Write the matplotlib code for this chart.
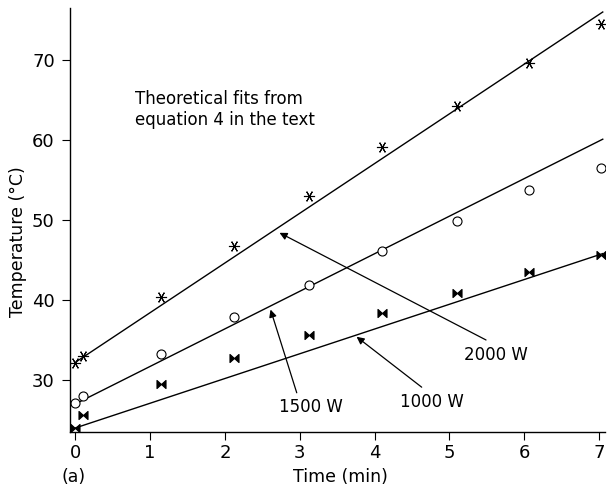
import matplotlib
matplotlib.use("Agg")
from matplotlib import pyplot as plt
from matplotlib.path import Path

# measured points (time in min, temperature in deg C)
time_pts = [0.0, 0.1, 1.15, 2.12, 3.13, 4.1, 5.1, 6.07, 7.03]
temp_2000 = [32.1, 33.0, 40.4, 46.8, 53.0, 59.1, 64.3, 69.6, 74.5]
temp_1500 = [27.1, 28.0, 33.3, 37.9, 41.9, 46.1, 49.9, 53.7, 56.5]
temp_1000 = [24.0, 25.6, 29.5, 32.7, 35.6, 38.4, 40.9, 43.5, 45.6]

# theoretical fit lines (end points)
fit_time = [0.0, 7.05]
fit_2000 = [32.2, 76.0]
fit_1500 = [27.0, 60.1]
fit_1000 = [24.0, 45.8]

# bow-tie marker with small end bars
bowtie = Path([(-1, -0.9), (-1, 0.9), (0, 0), (1, 0.9), (1, -0.9), (0, 0), (-1, -0.9)],
              [Path.MOVETO, Path.LINETO, Path.LINETO, Path.LINETO, Path.LINETO, Path.LINETO, Path.CLOSEPOLY])

plt.rcParams['font.family'] = ['DejaVu Sans']

fig = plt.figure(figsize=(6.1, 4.91), dpi=100)
ax = fig.add_axes([0.1148, 0.1202, 0.877, 0.8635])

ax.plot(fit_time, fit_2000, color="k", lw=1.0)
ax.plot(fit_time, fit_1500, color="k", lw=1.0)
ax.plot(fit_time, fit_1000, color="k", lw=1.0)

ax.plot(time_pts, temp_2000, ls="none", marker=(6, 2, 90), ms=8, mec="k", mew=0.8)
ax.plot(time_pts, temp_1500, ls="none", marker="o", ms=6.5, mfc="white", mec="k", mew=0.8)
ax.plot(time_pts, temp_1000, ls="none", marker=bowtie, ms=6.5, mfc="k", mec="k", mew=0.8)

ax.set_xlim(-0.07, 7.08)
ax.set_ylim(23.5, 76.5)
ax.set_xticks(range(0, 8))
ax.set_yticks([30, 40, 50, 60, 70])
ax.spines['top'].set_visible(False)
ax.spines['right'].set_visible(False)
ax.spines['left'].set_linewidth(1.0)
ax.spines['bottom'].set_linewidth(1.0)
ax.tick_params(direction="out", length=6, width=0.8, labelsize=13)
ax.tick_params(axis="y", pad=5)
ax.tick_params(axis="x", pad=3)

ax.set_xlabel("Time (min)", fontsize=12.5)
ax.set_ylabel("Temperature (°C)", fontsize=12.5)
ax.xaxis.set_label_coords(0.505, -0.106)
ax.yaxis.set_label_coords(-0.097, 0.45)
ax.yaxis.label.set_va("center")
ax.xaxis.label.set_va("center")
fig.text(0.12, 0.028, "(a)", fontsize=12.5, ha="center", va="center")

ax.text(0.80, 63.8, "Theoretical fits from\nequation 4 in the text", fontsize=12,
        ha="left", va="center", linespacing=1.2)

arrow = dict(arrowstyle="-|>", color="k", lw=0.9, mutation_scale=11, shrinkA=0, shrinkB=0)
ax.annotate("", xy=(2.73, 48.4), xytext=(5.49, 35.0), arrowprops=arrow)
ax.annotate("", xy=(2.61, 38.8), xytext=(2.96, 28.4), arrowprops=arrow)
ax.annotate("", xy=(3.76, 35.4), xytext=(4.63, 29.1), arrowprops=arrow)
ax.text(5.62, 33.1, "2000 W", fontsize=12, ha="center", va="center")
ax.text(3.15, 26.6, "1500 W", fontsize=12, ha="center", va="center")
ax.text(4.77, 27.2, "1000 W", fontsize=12, ha="center", va="center")

fig.savefig("out.png", dpi=100)
